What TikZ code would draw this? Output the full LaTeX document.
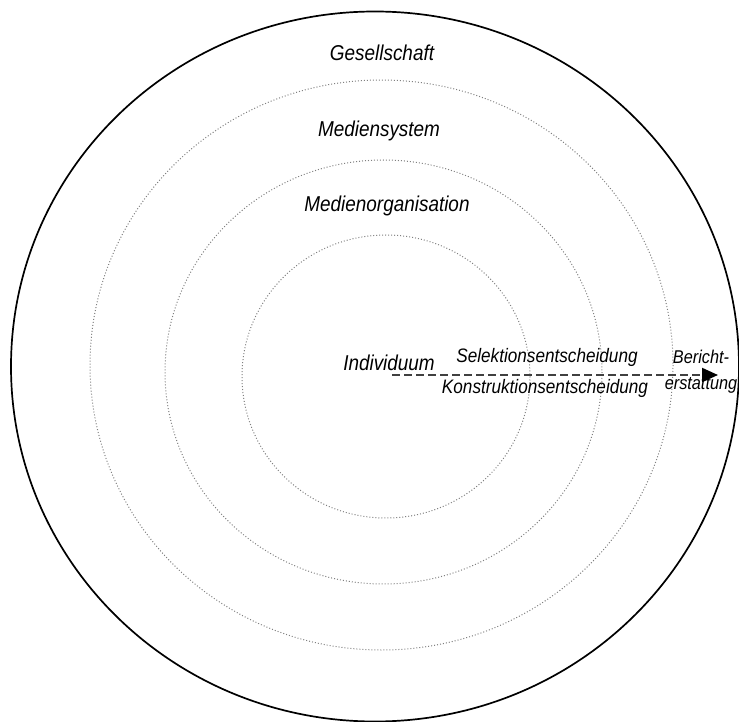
\documentclass[tikz,border=0pt]{standalone}
\usepackage{fontspec}
\setmainfont{Liberation Sans}[FakeStretch=0.88]
\usetikzlibrary{arrows.meta}
\begin{document}
\begin{tikzpicture}[x=1pt,y=-1pt,
  ring/.style={draw=black!50, line width=1pt, dash pattern=on 1pt off 2pt},
  outerring/.style={draw=black, line width=1.7pt},
  lbl/.style={font=\fontsize{21.5}{24}\selectfont\itshape, inner sep=0pt, text=black},
  small/.style={lbl, font=\fontsize{19.5}{22}\selectfont\itshape},
  flow/.style={draw=black!75, line width=2pt, dash pattern=on 8pt off 4pt,
    -{Triangle[length=16pt,width=14pt,color=black]}}]
\useasboundingbox (0,0) rectangle (739,722);
% nested spheres of influence
\draw[outerring] (375,366.5) ellipse [x radius=364, y radius=355];
\draw[ring] (381.5,365) ellipse [x radius=291.5, y radius=285];
\draw[ring] (383.5,372) ellipse [x radius=218.5, y radius=212];
\draw[ring] (386,376.5) ellipse [x radius=144, y radius=141.5];
% level labels
\node[lbl] (ges) at (382,53) {Gesellschaft};
\node[lbl] (sys) at (379,131) {Mediensystem};
\node[lbl] (org) at (387,206) {Medienorganisation};
\node[lbl] (ind) at (389,363) {Individuum};
\node[small] (sel) at (547,357) {Selektionsentscheidung};
\node[small] (kon) at (545,388) {Konstruktionsentscheidung};
\node[small, font=\fontsize{18.5}{21}\selectfont\itshape, align=center] (ber) at (701,372) {Bericht-\\[5pt]erstattung};
% news production path
\coordinate (start) at (392,375);
\coordinate (tip) at (718,375);
\draw[flow] (start) -- (tip);
\end{tikzpicture}
\end{document}
